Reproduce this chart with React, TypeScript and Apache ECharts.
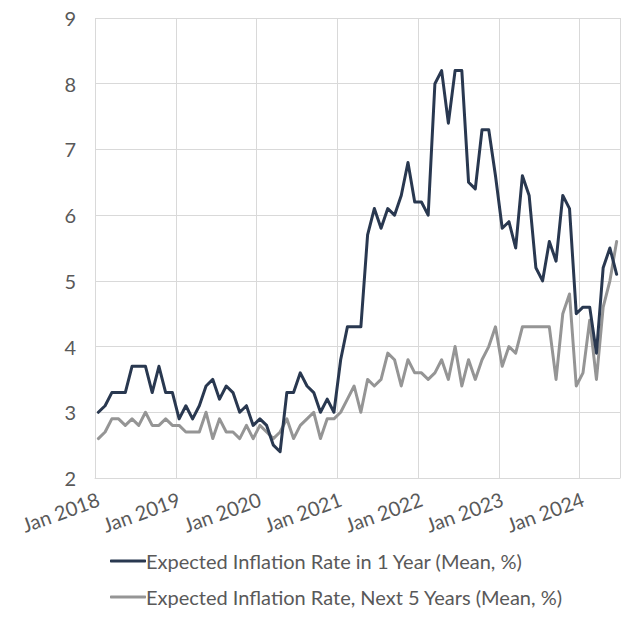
import React, { useEffect, useRef } from "react";
import * as echarts from "echarts";

const startYear = 2018;
const monthNames = ["Jan", "Feb", "Mar", "Apr", "May", "Jun", "Jul", "Aug", "Sep", "Oct", "Nov", "Dec"];

const oneYear: number[] = [
  3.0, 3.1, 3.3, 3.3, 3.3, 3.7, 3.7, 3.7, 3.3, 3.7, 3.3, 3.3,
  2.9, 3.1, 2.9, 3.1, 3.4, 3.5, 3.2, 3.4, 3.3, 3.0, 3.1, 2.8,
  2.9, 2.8, 2.5, 2.4, 3.3, 3.3, 3.6, 3.4, 3.3, 3.0, 3.2, 3.0,
  3.8, 4.3, 4.3, 4.3, 5.7, 6.1, 5.8, 6.1, 6.0, 6.3, 6.8, 6.2,
  6.2, 6.0, 8.0, 8.2, 7.4, 8.2, 8.2, 6.5, 6.4, 7.3, 7.3, 6.6,
  5.8, 5.9, 5.5, 6.6, 6.3, 5.2, 5.0, 5.6, 5.3, 6.3, 6.1, 4.5,
  4.6, 4.6, 3.9, 5.2, 5.5, 5.1,
];

const fiveYear: number[] = [
  2.6, 2.7, 2.9, 2.9, 2.8, 2.9, 2.8, 3.0, 2.8, 2.8, 2.9, 2.8,
  2.8, 2.7, 2.7, 2.7, 3.0, 2.6, 2.9, 2.7, 2.7, 2.6, 2.8, 2.6,
  2.8, 2.7, 2.6, 2.7, 2.9, 2.6, 2.8, 2.9, 3.0, 2.6, 2.9, 2.9,
  3.0, 3.2, 3.4, 3.0, 3.5, 3.4, 3.5, 3.9, 3.8, 3.4, 3.8, 3.6,
  3.6, 3.5, 3.6, 3.8, 3.5, 4.0, 3.4, 3.8, 3.5, 3.8, 4.0, 4.3,
  3.7, 4.0, 3.9, 4.3, 4.3, 4.3, 4.3, 4.3, 3.5, 4.5, 4.8, 3.4,
  3.6, 4.4, 3.5, 4.6, 5.0, 5.6,
];

const categories: string[] = oneYear.map(
  (_, i) => `${monthNames[i % 12]} ${startYear + Math.floor(i / 12)}`
);

const seriesNames = [
  "Expected Inflation Rate in 1 Year (Mean, %)",
  "Expected Inflation Rate, Next 5 Years (Mean, %)",
];

const FONT = "Lato";
const TEXT = "#595959";
const GRID = "#d9d9d9";

export default function App() {
  const ref = useRef<HTMLDivElement>(null);
  useEffect(() => {
    if (!ref.current) return;
    const chart = echarts.init(ref.current, undefined, { renderer: "svg" });
    chart.setOption({
      animation: false,
      backgroundColor: "#ffffff",
      textStyle: { fontFamily: FONT },
      grid: { left: 95, right: 20, top: 18, bottom: 148, containLabel: false },
      legend: {
        orient: "vertical",
        left: 110,
        top: 551,
        padding: 0,
        itemWidth: 36,
        itemHeight: 3,
        itemGap: 16,
        icon: "roundRect",
        textStyle: { color: TEXT, fontSize: 20, fontFamily: FONT, padding: [0, 0, 0, -5] },
        data: seriesNames,
      },
      xAxis: {
        type: "category",
        data: categories,
        boundaryGap: true,
        axisLine: { show: true, lineStyle: { color: GRID, width: 1 } },
        axisTick: { show: false },
        axisLabel: {
          interval: 11,
          rotate: 20,
          color: TEXT,
          fontSize: 20,
          fontFamily: FONT,
          margin: 20,
        },
        splitLine: { show: true, interval: 11, lineStyle: { color: GRID, width: 1 } },
      },
      yAxis: {
        type: "value",
        min: 2,
        max: 9,
        interval: 1,
        axisLine: { show: false },
        axisTick: { show: false },
        axisLabel: { color: TEXT, fontSize: 20, fontFamily: FONT, margin: 19 },
        splitLine: { show: true, lineStyle: { color: GRID, width: 1 } },
      },
      series: [
        {
          name: seriesNames[0],
          type: "line",
          data: oneYear,
          showSymbol: false,
          symbol: "none",
          lineStyle: { color: "#293850", width: 3, cap: "round", join: "round" },
          itemStyle: { color: "#293850" },
          z: 3,
        },
        {
          name: seriesNames[1],
          type: "line",
          data: fiveYear,
          showSymbol: false,
          symbol: "none",
          lineStyle: { color: "#959595", width: 3, cap: "round", join: "round" },
          itemStyle: { color: "#959595" },
          z: 2,
        },
      ],
    });
    return () => chart.dispose();
  }, []);
  return (
    <div
      ref={ref}
      style={{ position: "fixed", left: 0, top: 0, width: 640, height: 626 }}
    />
  );
}
